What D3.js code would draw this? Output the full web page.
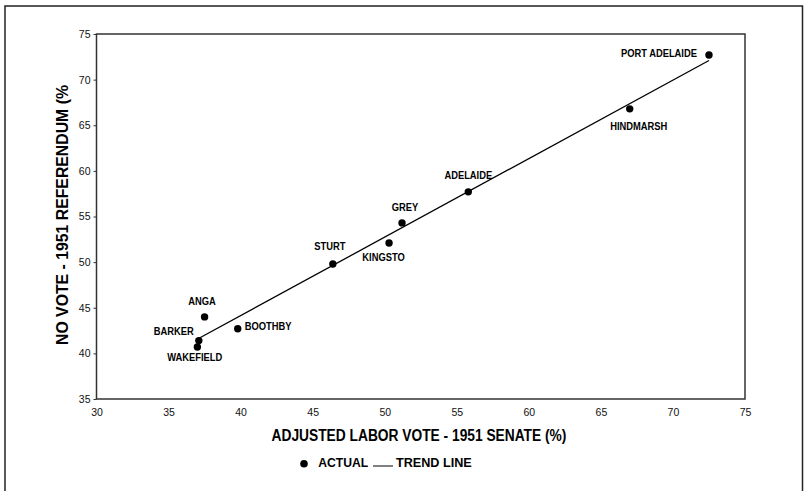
<!DOCTYPE html>
<html><head><meta charset="utf-8">
<script src="https://cdn.jsdelivr.net/npm/d3@7"></script>
<style>
html,body{margin:0;padding:0;background:#fff;}
svg{display:block;font-family:Arial,"Liberation Sans",sans-serif;}
</style></head>
<body>
<svg id="c" width="804" height="491"></svg>
<script>
// ---- data ----
const divisions = ["PORT ADELAIDE","HINDMARSH","ADELAIDE","GREY","KINGSTO","STURT","ANGA","BOOTHBY","BARKER","WAKEFIELD"];
const laborVote = [72.5, 67.0, 55.8, 51.2, 50.3, 46.4, 37.5, 39.8, 37.1, 37.0];
const noVote    = [72.7, 66.8, 57.7, 54.3, 52.1, 49.8, 44.0, 42.7, 41.4, 40.7];
const trendX = [37.05, 72.5];
const trendY = [41.6, 72.1];
const xTicks = [30,35,40,45,50,55,60,65,70,75];
const yTicks = [35,40,45,50,55,60,65,70,75];
const xTitle = "ADJUSTED LABOR VOTE - 1951 SENATE (%)";
const yTitle = "NO VOTE - 1951 REFERENDUM (%";
const legendLabels = ["ACTUAL","TREND LINE"];

// ---- layout (label offsets, not data) ----
const labelLayout = [
  {dx:-12, dy:-1.5, a:"end"},
  {dx:9, dy:17, a:"middle"},
  {dx:0, dy:-17, a:"middle"},
  {dx:3, dy:-16, a:"middle"},
  {dx:-5.5, dy:14, a:"middle"},
  {dx:-3, dy:-18, a:"middle"},
  {dx:-2.5, dy:-16, a:"middle"},
  {dx:7, dy:-2.5, a:"start"},
  {dx:-25, dy:-10, a:"middle"},
  {dx:-2.6, dy:10.5, a:"middle"}
];

const svg = d3.select("#c");
const L=96.5, R=745, T=34, B=399;
const x = d3.scaleLinear().domain([30,75]).range([L,R]);
const y = d3.scaleLinear().domain([35,75]).range([B,T]);

function squeeze(sel, f){
  sel.each(function(){
    const n=this.getComputedTextLength();
    d3.select(this).attr("textLength", n*f).attr("lengthAdjust","spacingAndGlyphs");
  });
}

// outer frame
svg.append("rect").attr("x",5).attr("y",6).attr("width",797.5).attr("height",500)
  .attr("fill","none").attr("stroke","#222").attr("stroke-width",1.5);

// plot frame
svg.append("rect").attr("x",L).attr("y",T).attr("width",R-L).attr("height",B-T)
  .attr("fill","none").attr("stroke","#333").attr("stroke-width",1.5);

// axes
const xAxis = svg.append("g").attr("transform",`translate(0,${B})`)
  .call(d3.axisBottom(x).tickValues(xTicks).tickSize(0).tickPadding(10).tickFormat(d3.format("d")));
xAxis.select(".domain").remove();
xAxis.selectAll("text").attr("font-size",10.5).attr("font-family","Arial,'Liberation Sans',sans-serif").attr("fill","#111");

const yAxis = svg.append("g").attr("transform",`translate(${L},0)`)
  .call(d3.axisLeft(y).tickValues(yTicks).tickSize(3).tickPadding(3).tickFormat(d3.format("d")));
yAxis.select(".domain").remove();
yAxis.selectAll("line").attr("stroke","#333");
yAxis.selectAll("text").attr("font-size",10.5).attr("font-family","Arial,'Liberation Sans',sans-serif").attr("fill","#111");

// trend line
const tl = trendX.map((v,i)=>[v,trendY[i]]);
svg.append("path").datum(tl)
  .attr("d", d3.line().x(d=>x(d[0])).y(d=>y(d[1])))
  .attr("fill","none").attr("stroke","#000").attr("stroke-width",1.3);

// points
const pts = divisions.map((n,i)=>({n, vx:laborVote[i], vy:noVote[i], l:labelLayout[i]}));
svg.append("g").selectAll("circle").data(pts).join("circle")
  .attr("cx",d=>x(d.vx)).attr("cy",d=>y(d.vy)).attr("r",3.7).attr("fill","#000");

const labs = svg.append("g").selectAll("text").data(pts).join("text")
  .attr("x",d=>x(d.vx)+d.l.dx).attr("y",d=>y(d.vy)+d.l.dy)
  .attr("text-anchor",d=>d.l.a).attr("dominant-baseline","central")
  .attr("font-size",11).attr("font-weight","bold").attr("fill","#000")
  .text(d=>d.n);
squeeze(labs,0.85);

// axis titles
const xt = svg.append("text").attr("x",419).attr("y",435).attr("text-anchor","middle")
  .attr("dominant-baseline","central").attr("font-size",16).attr("font-weight","bold")
  .text(xTitle);
squeeze(xt,0.86);

const yt = svg.append("text").attr("transform","translate(62.5,215) rotate(-90)")
  .attr("text-anchor","middle").attr("dominant-baseline","central")
  .attr("font-size",17).attr("font-weight","bold").text(yTitle);
yt.attr("textLength",260).attr("lengthAdjust","spacingAndGlyphs");

// legend
const lg = svg.append("g");
lg.append("circle").attr("cx",304).attr("cy",463.7).attr("r",3.8).attr("fill","#000");
const t1 = lg.append("text").attr("x",318.3).attr("y",466.7).attr("font-size",13).attr("font-weight","bold").text(legendLabels[0]);
t1.attr("textLength",50).attr("lengthAdjust","spacingAndGlyphs");
lg.append("line").attr("x1",373).attr("x2",393).attr("y1",466).attr("y2",466).attr("stroke","#000").attr("stroke-width",1);
const t2 = lg.append("text").attr("x",396).attr("y",466.7).attr("font-size",13).attr("font-weight","bold").text(legendLabels[1]);
t2.attr("textLength",75.7).attr("lengthAdjust","spacingAndGlyphs");
</script>
</body></html>
